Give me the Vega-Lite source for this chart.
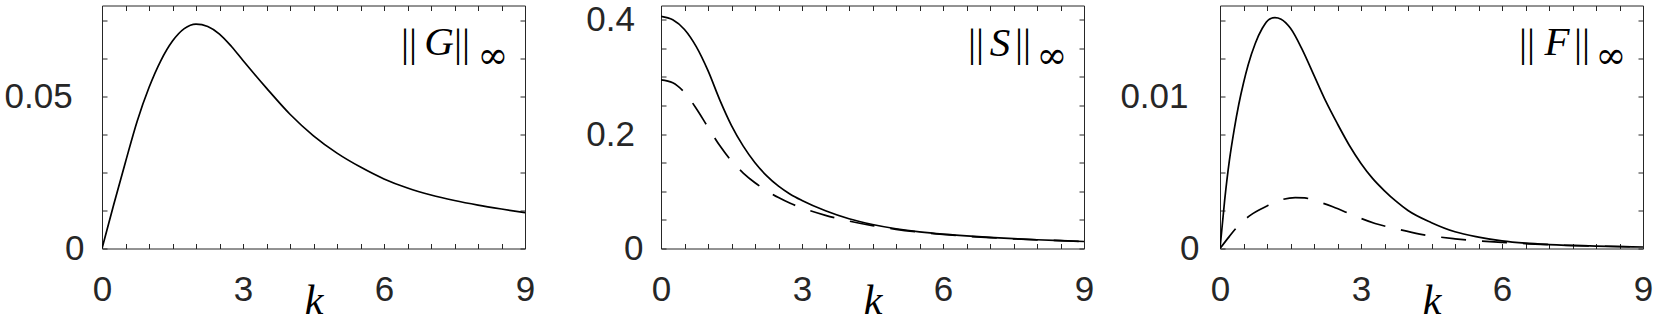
{
  "$schema": "https://vega.github.io/schema/vega-lite/v6.json",
  "padding": {"left": 4, "top": 2.5, "right": 0, "bottom": 0},
  "autosize": {"type": "pad"},
  "spacing": 136,
  "bounds": "flush",
  "datasets": {
    "curves": [
      {"panel":"G","series":"solid","k":0,"v":0},
      {"panel":"G","series":"solid","k":0.25,"v":0.0145},
      {"panel":"G","series":"solid","k":0.5,"v":0.0285},
      {"panel":"G","series":"solid","k":0.75,"v":0.042},
      {"panel":"G","series":"solid","k":1,"v":0.053},
      {"panel":"G","series":"solid","k":1.25,"v":0.0618},
      {"panel":"G","series":"solid","k":1.5,"v":0.0683},
      {"panel":"G","series":"solid","k":1.75,"v":0.0724},
      {"panel":"G","series":"solid","k":2,"v":0.0739},
      {"panel":"G","series":"solid","k":2.25,"v":0.0731},
      {"panel":"G","series":"solid","k":2.5,"v":0.0706},
      {"panel":"G","series":"solid","k":2.75,"v":0.0666},
      {"panel":"G","series":"solid","k":3,"v":0.0619},
      {"panel":"G","series":"solid","k":3.25,"v":0.0573},
      {"panel":"G","series":"solid","k":3.5,"v":0.0528},
      {"panel":"G","series":"solid","k":4,"v":0.0442},
      {"panel":"G","series":"solid","k":4.5,"v":0.0371},
      {"panel":"G","series":"solid","k":5,"v":0.0314},
      {"panel":"G","series":"solid","k":5.5,"v":0.0268},
      {"panel":"G","series":"solid","k":6,"v":0.0229},
      {"panel":"G","series":"solid","k":6.5,"v":0.0199},
      {"panel":"G","series":"solid","k":7,"v":0.0176},
      {"panel":"G","series":"solid","k":7.5,"v":0.0158},
      {"panel":"G","series":"solid","k":8,"v":0.0143},
      {"panel":"G","series":"solid","k":8.5,"v":0.013},
      {"panel":"G","series":"solid","k":9,"v":0.0118},

      {"panel":"S","series":"solid","k":0,"v":0.406},
      {"panel":"S","series":"solid","k":0.25,"v":0.4},
      {"panel":"S","series":"solid","k":0.5,"v":0.383},
      {"panel":"S","series":"solid","k":0.75,"v":0.353},
      {"panel":"S","series":"solid","k":1,"v":0.311},
      {"panel":"S","series":"solid","k":1.25,"v":0.26},
      {"panel":"S","series":"solid","k":1.5,"v":0.215},
      {"panel":"S","series":"solid","k":1.75,"v":0.179},
      {"panel":"S","series":"solid","k":2,"v":0.15},
      {"panel":"S","series":"solid","k":2.25,"v":0.127},
      {"panel":"S","series":"solid","k":2.5,"v":0.109},
      {"panel":"S","series":"solid","k":2.75,"v":0.095},
      {"panel":"S","series":"solid","k":3,"v":0.084},
      {"panel":"S","series":"solid","k":3.5,"v":0.066},
      {"panel":"S","series":"solid","k":4,"v":0.052},
      {"panel":"S","series":"solid","k":4.5,"v":0.042},
      {"panel":"S","series":"solid","k":5,"v":0.0345},
      {"panel":"S","series":"solid","k":5.5,"v":0.029},
      {"panel":"S","series":"solid","k":6,"v":0.025},
      {"panel":"S","series":"solid","k":6.5,"v":0.022},
      {"panel":"S","series":"solid","k":7,"v":0.0195},
      {"panel":"S","series":"solid","k":7.5,"v":0.0172},
      {"panel":"S","series":"solid","k":8,"v":0.0153},
      {"panel":"S","series":"solid","k":8.5,"v":0.0137},
      {"panel":"S","series":"solid","k":9,"v":0.0122},

      {"panel":"S","series":"dashed","k":0,"v":0.295},
      {"panel":"S","series":"dashed","k":0.25,"v":0.29},
      {"panel":"S","series":"dashed","k":0.5,"v":0.273},
      {"panel":"S","series":"dashed","k":0.75,"v":0.245},
      {"panel":"S","series":"dashed","k":1,"v":0.212},
      {"panel":"S","series":"dashed","k":1.25,"v":0.18},
      {"panel":"S","series":"dashed","k":1.5,"v":0.153},
      {"panel":"S","series":"dashed","k":1.75,"v":0.132},
      {"panel":"S","series":"dashed","k":2,"v":0.115},
      {"panel":"S","series":"dashed","k":2.25,"v":0.101},
      {"panel":"S","series":"dashed","k":2.5,"v":0.089},
      {"panel":"S","series":"dashed","k":2.75,"v":0.079},
      {"panel":"S","series":"dashed","k":3,"v":0.071},
      {"panel":"S","series":"dashed","k":3.5,"v":0.058},
      {"panel":"S","series":"dashed","k":4,"v":0.048},
      {"panel":"S","series":"dashed","k":4.5,"v":0.04},
      {"panel":"S","series":"dashed","k":5,"v":0.0335},
      {"panel":"S","series":"dashed","k":5.5,"v":0.0285},
      {"panel":"S","series":"dashed","k":6,"v":0.0245},
      {"panel":"S","series":"dashed","k":6.5,"v":0.0215},
      {"panel":"S","series":"dashed","k":7,"v":0.019},
      {"panel":"S","series":"dashed","k":7.5,"v":0.017},
      {"panel":"S","series":"dashed","k":8,"v":0.0152},
      {"panel":"S","series":"dashed","k":8.5,"v":0.0136},
      {"panel":"S","series":"dashed","k":9,"v":0.0121},

      {"panel":"F","series":"solid","k":0,"v":0},
      {"panel":"F","series":"solid","k":0.1,"v":0.0032},
      {"panel":"F","series":"solid","k":0.2,"v":0.0058},
      {"panel":"F","series":"solid","k":0.3,"v":0.0078},
      {"panel":"F","series":"solid","k":0.4,"v":0.0095},
      {"panel":"F","series":"solid","k":0.5,"v":0.0109},
      {"panel":"F","series":"solid","k":0.6,"v":0.0121},
      {"panel":"F","series":"solid","k":0.75,"v":0.0135},
      {"panel":"F","series":"solid","k":0.9,"v":0.0145},
      {"panel":"F","series":"solid","k":1.05,"v":0.0151},
      {"panel":"F","series":"solid","k":1.17,"v":0.0152},
      {"panel":"F","series":"solid","k":1.3,"v":0.0151},
      {"panel":"F","series":"solid","k":1.5,"v":0.0145},
      {"panel":"F","series":"solid","k":1.75,"v":0.0131},
      {"panel":"F","series":"solid","k":2,"v":0.0114},
      {"panel":"F","series":"solid","k":2.25,"v":0.0097},
      {"panel":"F","series":"solid","k":2.5,"v":0.0082},
      {"panel":"F","series":"solid","k":2.75,"v":0.0068},
      {"panel":"F","series":"solid","k":3,"v":0.0056},
      {"panel":"F","series":"solid","k":3.25,"v":0.0046},
      {"panel":"F","series":"solid","k":3.5,"v":0.0038},
      {"panel":"F","series":"solid","k":3.75,"v":0.0031},
      {"panel":"F","series":"solid","k":4,"v":0.0025},
      {"panel":"F","series":"solid","k":4.5,"v":0.0017},
      {"panel":"F","series":"solid","k":5,"v":0.0011},
      {"panel":"F","series":"solid","k":5.5,"v":0.00075},
      {"panel":"F","series":"solid","k":6,"v":0.0005},
      {"panel":"F","series":"solid","k":6.5,"v":0.00035},
      {"panel":"F","series":"solid","k":7,"v":0.00026},
      {"panel":"F","series":"solid","k":8,"v":0.00016},
      {"panel":"F","series":"solid","k":9,"v":0.0001},

      {"panel":"F","series":"dashed","k":0,"v":0},
      {"panel":"F","series":"dashed","k":0.2,"v":0.0008},
      {"panel":"F","series":"dashed","k":0.37,"v":0.00143},
      {"panel":"F","series":"dashed","k":0.65,"v":0.0022},
      {"panel":"F","series":"dashed","k":1,"v":0.0028},
      {"panel":"F","series":"dashed","k":1.3,"v":0.0032},
      {"panel":"F","series":"dashed","k":1.6,"v":0.00335},
      {"panel":"F","series":"dashed","k":1.8,"v":0.00333},
      {"panel":"F","series":"dashed","k":2.03,"v":0.00314},
      {"panel":"F","series":"dashed","k":2.4,"v":0.00275},
      {"panel":"F","series":"dashed","k":2.9,"v":0.0021},
      {"panel":"F","series":"dashed","k":3.3,"v":0.00165},
      {"panel":"F","series":"dashed","k":3.75,"v":0.0013},
      {"panel":"F","series":"dashed","k":4.25,"v":0.00095},
      {"panel":"F","series":"dashed","k":5,"v":0.00064},
      {"panel":"F","series":"dashed","k":5.5,"v":0.0005},
      {"panel":"F","series":"dashed","k":6,"v":0.0004},
      {"panel":"F","series":"dashed","k":6.5,"v":0.00032},
      {"panel":"F","series":"dashed","k":7,"v":0.00025},
      {"panel":"F","series":"dashed","k":8,"v":0.00016},
      {"panel":"F","series":"dashed","k":9,"v":0.0001}
    ],
    "labels": [
      {"panel":"G","k":9,"v":0.08,"name":"G"},
      {"panel":"S","k":9,"v":0.425,"name":"S"},
      {"panel":"F","k":9,"v":0.016,"name":"F"}
    ]
  },
  "hconcat": [
    {
      "width": 423, "height": 243,
      "resolve": {"axis": {"x": "independent", "y": "independent"}},
      "layer": [
        {
          "data": {"name": "curves"},
          "transform": [{"filter": "datum.panel == 'G' && datum.series == 'solid'"}],
          "mark": {"type": "line", "color": "black", "strokeWidth": 1.7, "interpolate": "monotone", "clip": true},
          "encoding": {
            "x": {"field": "k", "type": "quantitative", "scale": {"domain": [0, 9], "nice": false},
                  "axis": {"orient": "bottom", "values": [0,0.5,1,1.5,2,2.5,3,3.5,4,4.5,5,5.5,6,6.5,7,7.5,8,8.5,9], "labelExpr": "datum.value % 3 == 0 ? format(datum.value, 'd') : ''", "title": "k"}},
            "y": {"field": "v", "type": "quantitative", "scale": {"domain": [0, 0.08], "nice": false},
                  "axis": {"orient": "left", "values": [0,0.0125,0.025,0.0375,0.05,0.0625,0.075], "labelExpr": "datum.value == 0 ? '0' : datum.value == 0.05 ? '0.05' : ''", "title": null,
                           "labelPadding": {"condition": {"test": "datum.value == 0", "value": 23}, "value": 34.8}}}
          }
        },
        {
          "data": {"name": "labels"},
          "transform": [{"filter": "datum.panel == 'G'"}],
          "mark": {"type": "text", "text": "||", "font": "Liberation Serif", "fontSize": 40, "align": "center", "baseline": "alphabetic", "dx": -116, "dy": 50, "color": "black"},
          "encoding": {
            "x": {"field": "k", "type": "quantitative", "scale": {"domain": [0, 9], "nice": false},
                  "axis": {"orient": "top", "values": [0,0.5,1,1.5,2,2.5,3,3.5,4,4.5,5,5.5,6,6.5,7,7.5,8,8.5,9], "labels": false, "title": null}},
            "y": {"field": "v", "type": "quantitative", "scale": {"domain": [0, 0.08], "nice": false},
                  "axis": {"orient": "right", "values": [0,0.0125,0.025,0.0375,0.05,0.0625,0.075], "labels": false, "title": null}}
          }
        },
        {
          "data": {"name": "labels"},
          "transform": [{"filter": "datum.panel == 'G'"}],
          "mark": {"type": "text", "text": "||", "font": "Liberation Serif", "fontSize": 40, "align": "center", "baseline": "alphabetic", "dx": -63, "dy": 50, "color": "black"},
          "encoding": {"x": {"field": "k", "type": "quantitative", "axis": null}, "y": {"field": "v", "type": "quantitative", "axis": null}}
        },
        {
          "data": {"name": "labels"},
          "transform": [{"filter": "datum.panel == 'G'"}],
          "mark": {"type": "text", "font": "Liberation Serif", "fontStyle": "italic", "fontSize": 41, "align": "center", "baseline": "alphabetic", "dx": -86, "dy": 49, "color": "black"},
          "encoding": {"x": {"field": "k", "type": "quantitative", "axis": null}, "y": {"field": "v", "type": "quantitative", "axis": null}, "text": {"field": "name"}}
        },
        {
          "data": {"name": "labels"},
          "transform": [{"filter": "datum.panel == 'G'"}],
          "mark": {"type": "text", "text": "∞", "font": "DejaVu Serif", "fontSize": 37, "align": "center", "baseline": "alphabetic", "dx": -32, "dy": 62, "color": "black"},
          "encoding": {"x": {"field": "k", "type": "quantitative", "axis": null}, "y": {"field": "v", "type": "quantitative", "axis": null}}
        }
      ]
    },
    {
      "width": 423, "height": 243,
      "resolve": {"axis": {"x": "independent", "y": "independent"}},
      "layer": [
        {
          "data": {"name": "curves"},
          "transform": [{"filter": "datum.panel == 'S' && datum.series == 'solid'"}],
          "mark": {"type": "line", "color": "black", "strokeWidth": 1.7, "interpolate": "monotone", "clip": true},
          "encoding": {
            "x": {"field": "k", "type": "quantitative", "scale": {"domain": [0, 9], "nice": false},
                  "axis": {"orient": "bottom", "values": [0,0.5,1,1.5,2,2.5,3,3.5,4,4.5,5,5.5,6,6.5,7,7.5,8,8.5,9], "labelExpr": "datum.value % 3 == 0 ? format(datum.value, 'd') : ''", "title": "k"}},
            "y": {"field": "v", "type": "quantitative", "scale": {"domain": [0, 0.425], "nice": false},
                  "axis": {"orient": "left", "values": [0,0.05,0.1,0.15,0.2,0.25,0.3,0.35,0.4], "labelExpr": "datum.value == 0 ? '0' : datum.value == 0.2 ? '0.2' : datum.value == 0.4 ? '0.4' : ''", "title": null,
                           "labelPadding": {"condition": {"test": "datum.value == 0", "value": 23}, "value": 31.5}}}
          }
        },
        {
          "data": {"name": "curves"},
          "transform": [{"filter": "datum.panel == 'S' && datum.series == 'dashed'"}],
          "mark": {"type": "line", "color": "black", "strokeWidth": 1.7, "interpolate": "monotone", "strokeDash": [25, 16], "clip": true},
          "encoding": {"x": {"field": "k", "type": "quantitative", "axis": null}, "y": {"field": "v", "type": "quantitative", "axis": null}}
        },
        {
          "data": {"name": "labels"},
          "transform": [{"filter": "datum.panel == 'S'"}],
          "mark": {"type": "text", "text": "||", "font": "Liberation Serif", "fontSize": 40, "align": "center", "baseline": "alphabetic", "dx": -108, "dy": 50, "color": "black"},
          "encoding": {
            "x": {"field": "k", "type": "quantitative", "scale": {"domain": [0, 9], "nice": false},
                  "axis": {"orient": "top", "values": [0,0.5,1,1.5,2,2.5,3,3.5,4,4.5,5,5.5,6,6.5,7,7.5,8,8.5,9], "labels": false, "title": null}},
            "y": {"field": "v", "type": "quantitative", "scale": {"domain": [0, 0.425], "nice": false},
                  "axis": {"orient": "right", "values": [0,0.05,0.1,0.15,0.2,0.25,0.3,0.35,0.4], "labels": false, "title": null}}
          }
        },
        {
          "data": {"name": "labels"},
          "transform": [{"filter": "datum.panel == 'S'"}],
          "mark": {"type": "text", "text": "||", "font": "Liberation Serif", "fontSize": 40, "align": "center", "baseline": "alphabetic", "dx": -61, "dy": 50, "color": "black"},
          "encoding": {"x": {"field": "k", "type": "quantitative", "axis": null}, "y": {"field": "v", "type": "quantitative", "axis": null}}
        },
        {
          "data": {"name": "labels"},
          "transform": [{"filter": "datum.panel == 'S'"}],
          "mark": {"type": "text", "font": "Liberation Serif", "fontStyle": "italic", "fontSize": 41, "align": "center", "baseline": "alphabetic", "dx": -84, "dy": 50, "color": "black"},
          "encoding": {"x": {"field": "k", "type": "quantitative", "axis": null}, "y": {"field": "v", "type": "quantitative", "axis": null}, "text": {"field": "name"}}
        },
        {
          "data": {"name": "labels"},
          "transform": [{"filter": "datum.panel == 'S'"}],
          "mark": {"type": "text", "text": "∞", "font": "DejaVu Serif", "fontSize": 37, "align": "center", "baseline": "alphabetic", "dx": -32, "dy": 62, "color": "black"},
          "encoding": {"x": {"field": "k", "type": "quantitative", "axis": null}, "y": {"field": "v", "type": "quantitative", "axis": null}}
        }
      ]
    },
    {
      "width": 423, "height": 243,
      "resolve": {"axis": {"x": "independent", "y": "independent"}},
      "layer": [
        {
          "data": {"name": "curves"},
          "transform": [{"filter": "datum.panel == 'F' && datum.series == 'solid'"}],
          "mark": {"type": "line", "color": "black", "strokeWidth": 1.7, "interpolate": "monotone", "clip": true},
          "encoding": {
            "x": {"field": "k", "type": "quantitative", "scale": {"domain": [0, 9], "nice": false},
                  "axis": {"orient": "bottom", "values": [0,0.5,1,1.5,2,2.5,3,3.5,4,4.5,5,5.5,6,6.5,7,7.5,8,8.5,9], "labelExpr": "datum.value % 3 == 0 ? format(datum.value, 'd') : ''", "title": "k"}},
            "y": {"field": "v", "type": "quantitative", "scale": {"domain": [0, 0.016], "nice": false},
                  "axis": {"orient": "left", "values": [0,0.0025,0.005,0.0075,0.01,0.0125,0.015], "labelExpr": "datum.value == 0 ? '0' : datum.value == 0.01 ? '0.01' : ''", "title": null,
                           "labelPadding": {"condition": {"test": "datum.value == 0", "value": 26}, "value": 37}}}
          }
        },
        {
          "data": {"name": "curves"},
          "transform": [{"filter": "datum.panel == 'F' && datum.series == 'dashed'"}],
          "mark": {"type": "line", "color": "black", "strokeWidth": 1.7, "interpolate": "monotone", "strokeDash": [25, 16], "clip": true},
          "encoding": {"x": {"field": "k", "type": "quantitative", "axis": null}, "y": {"field": "v", "type": "quantitative", "axis": null}}
        },
        {
          "data": {"name": "labels"},
          "transform": [{"filter": "datum.panel == 'F'"}],
          "mark": {"type": "text", "text": "||", "font": "Liberation Serif", "fontSize": 40, "align": "center", "baseline": "alphabetic", "dx": -116, "dy": 50, "color": "black"},
          "encoding": {
            "x": {"field": "k", "type": "quantitative", "scale": {"domain": [0, 9], "nice": false},
                  "axis": {"orient": "top", "values": [0,0.5,1,1.5,2,2.5,3,3.5,4,4.5,5,5.5,6,6.5,7,7.5,8,8.5,9], "labels": false, "title": null}},
            "y": {"field": "v", "type": "quantitative", "scale": {"domain": [0, 0.016], "nice": false},
                  "axis": {"orient": "right", "values": [0,0.0025,0.005,0.0075,0.01,0.0125,0.015], "labels": false, "title": null}}
          }
        },
        {
          "data": {"name": "labels"},
          "transform": [{"filter": "datum.panel == 'F'"}],
          "mark": {"type": "text", "text": "||", "font": "Liberation Serif", "fontSize": 40, "align": "center", "baseline": "alphabetic", "dx": -61, "dy": 50, "color": "black"},
          "encoding": {"x": {"field": "k", "type": "quantitative", "axis": null}, "y": {"field": "v", "type": "quantitative", "axis": null}}
        },
        {
          "data": {"name": "labels"},
          "transform": [{"filter": "datum.panel == 'F'"}],
          "mark": {"type": "text", "font": "Liberation Serif", "fontStyle": "italic", "fontSize": 41, "align": "center", "baseline": "alphabetic", "dx": -86, "dy": 49, "color": "black"},
          "encoding": {"x": {"field": "k", "type": "quantitative", "axis": null}, "y": {"field": "v", "type": "quantitative", "axis": null}, "text": {"field": "name"}}
        },
        {
          "data": {"name": "labels"},
          "transform": [{"filter": "datum.panel == 'F'"}],
          "mark": {"type": "text", "text": "∞", "font": "DejaVu Serif", "fontSize": 37, "align": "center", "baseline": "alphabetic", "dx": -32, "dy": 62, "color": "black"},
          "encoding": {"x": {"field": "k", "type": "quantitative", "axis": null}, "y": {"field": "v", "type": "quantitative", "axis": null}}
        }
      ]
    }
  ],
  "config": {
    "view": {"stroke": null},
    "background": "white",
    "axis": {
      "grid": false,
      "domainColor": "#262626",
      "domainWidth": 1,
      "tickColor": "#262626",
      "tickWidth": 1,
      "tickSize": -5,
      "labelColor": "#262626",
      "labelFont": "Liberation Sans",
      "labelFontSize": 35,
      "labelOverlap": false,
      "labelBound": false,
      "labelFlush": false,
      "titleFont": "Liberation Serif",
      "titleFontStyle": "italic",
      "titleFontWeight": "normal",
      "titleFontSize": 42,
      "titleColor": "black"
    },
    "axisX": {"labelPadding": 28.6, "titleBaseline": "alphabetic", "titleY": 65.3},
    "axisY": {"labelPadding": 23}
  }
}
